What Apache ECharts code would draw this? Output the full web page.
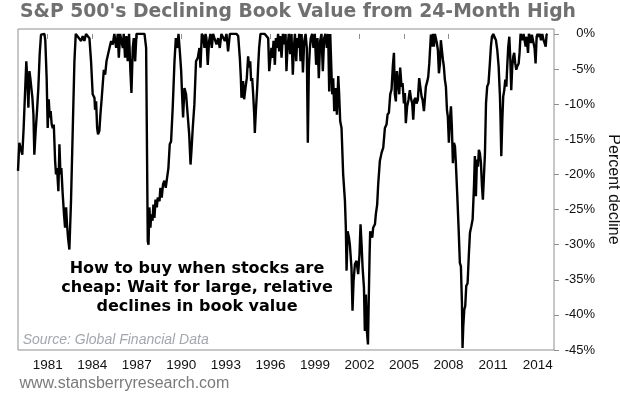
<!DOCTYPE html>
<html><head><meta charset="utf-8">
<script src="https://cdn.jsdelivr.net/npm/echarts@6/dist/echarts.min.js"></script>
<style>html,body{margin:0;padding:0;background:#fff}#c{width:620px;height:395px}</style>
</head><body><div id="c"></div>
<script>
const titleText = "S&P 500's Declining Book Value from 24-Month High";
const noteLines = ["How to buy when stocks are", "cheap: Wait for large, relative", "declines in book value"];
const sourceText = "Source: Global Financial Data";
const footerText = "www.stansberryresearch.com";
const axisName = "Percent decline";

const xTickYears = [1981, 1984, 1987, 1990, 1993, 1996, 1999, 2002, 2005, 2008, 2011, 2014];
const yTickValues = [0, -5, -10, -15, -20, -25, -30, -35, -40, -45];

const dates = [
1979.00,1979.09,1979.20,1979.29,1979.38,1979.47,1979.56,1979.63,1979.70,1979.77,1979.83,1979.90,1979.97,
1980.04,1980.10,1980.19,1980.28,1980.37,1980.46,1980.55,1980.67,1980.78,1980.84,1980.93,
1981.00,1981.07,1981.14,1981.20,1981.27,1981.34,1981.41,1981.50,1981.56,1981.63,1981.72,1981.79,1981.86,1981.92,
1982.01,1982.10,1982.17,1982.24,1982.30,1982.37,1982.46,1982.57,1982.69,1982.80,1982.89,
1983.02,1983.25,1983.36,1983.47,1983.58,1983.70,1983.81,1983.92,
1984.03,1984.15,1984.19,1984.26,1984.33,1984.39,1984.48,1984.55,1984.64,1984.78,1984.87,1984.96,
1985.05,1985.16,1985.27,1985.38,1985.49,1985.61,1985.72,1985.79,1985.88,1985.99,
1986.06,1986.12,1986.21,1986.30,1986.39,1986.48,1986.57,1986.64,1986.73,1986.80,1986.89,1986.98,
1987.18,1987.52,1987.63,1987.74,1987.79,1987.85,1987.92,1987.97,
1988.06,1988.12,1988.19,1988.26,1988.35,1988.41,1988.53,1988.59,1988.68,1988.77,1988.86,1988.95,
1989.04,1989.13,1989.22,1989.31,1989.42,1989.54,1989.63,1989.72,1989.81,1989.90,1989.99,
1990.05,1990.12,1990.21,1990.32,1990.44,1990.53,1990.62,1990.68,1990.77,1990.88,1990.99,
1991.11,1991.22,1991.29,1991.38,1991.47,1991.56,1991.63,1991.69,1991.78,1991.87,1991.96,
1992.05,1992.14,1992.23,1992.37,1992.48,1992.59,1992.70,1992.82,1992.93,
1993.04,1993.15,1993.27,1993.49,1993.72,1993.83,1993.94,
1994.01,1994.05,1994.16,1994.23,1994.32,1994.41,1994.50,1994.57,1994.64,1994.70,1994.77,1994.84,1994.91,1994.95,
1995.02,1995.11,1995.18,1995.24,1995.33,1995.44,1995.62,1995.74,1995.85,1995.92,1995.98,
1996.07,1996.14,1996.21,1996.30,1996.37,1996.43,1996.52,1996.59,1996.66,1996.75,1996.84,1996.93,
1997.02,1997.08,1997.15,1997.24,1997.33,1997.42,1997.51,1997.58,1997.65,1997.74,1997.80,1997.87,1997.94,
1998.03,1998.10,1998.19,1998.28,1998.37,1998.45,1998.52,1998.59,1998.66,1998.72,1998.81,1998.90,1998.99,
1999.08,1999.17,1999.26,1999.35,1999.44,1999.53,1999.62,1999.71,1999.80,1999.89,1999.96,
2000.03,2000.09,2000.16,2000.23,2000.30,2000.39,2000.48,2000.57,2000.63,2000.70,2000.79,2000.90,
2001.02,2001.08,2001.13,2001.20,2001.29,2001.35,2001.46,2001.53,2001.60,2001.69,2001.80,2001.91,
2002.00,2002.07,2002.14,2002.21,2002.30,2002.36,2002.43,2002.50,2002.57,2002.61,2002.68,2002.72,2002.79,2002.86,2002.92,
2003.04,2003.10,2003.19,2003.26,2003.37,2003.49,2003.60,2003.71,2003.82,2003.89,2003.98,
2004.07,2004.16,2004.25,2004.32,2004.38,2004.45,2004.52,2004.61,2004.68,2004.74,2004.83,2004.90,2004.99,
2005.06,2005.12,2005.21,2005.30,2005.39,2005.46,2005.55,2005.62,2005.69,2005.78,2005.84,2005.93,
2006.02,2006.11,2006.18,2006.25,2006.34,2006.40,2006.47,2006.56,2006.63,2006.70,2006.74,2006.81,2006.88,2006.94,
2007.01,2007.08,2007.15,2007.21,2007.28,2007.35,2007.42,2007.48,2007.55,2007.62,2007.68,2007.75,2007.82,2007.89,2007.95,
2008.02,2008.09,2008.16,2008.22,2008.29,2008.36,2008.43,2008.49,2008.58,2008.67,2008.76,2008.83,2008.90,2008.94,2008.99,
2009.06,2009.12,2009.19,2009.28,2009.37,2009.44,2009.53,2009.62,2009.71,2009.77,2009.84,2009.91,2009.98,
2010.04,2010.11,2010.18,2010.25,2010.31,2010.38,2010.45,2010.52,2010.60,2010.69,2010.78,2010.85,2010.92,
2011.01,2011.10,2011.19,2011.28,2011.37,2011.46,2011.50,2011.55,2011.62,2011.68,2011.75,2011.82,2011.89,2011.95,
2012.02,2012.09,2012.16,2012.22,2012.29,2012.36,2012.42,2012.49,2012.56,2012.63,2012.72,2012.78,2012.85,2012.92,2012.99,
2013.05,2013.12,2013.19,2013.26,2013.35,2013.41,2013.48,2013.55,2013.61,2013.70,2013.79,2013.86,2013.93,
2014.00,2014.06,2014.15,2014.22,2014.31,2014.40,2014.47,2014.54,2014.60,2014.67
];

const declinePct = [
-19.5,-15.5,-15.3,-17.2,-13.4,-8.6,-3.9,-6.7,-10.5,-5.3,-6.3,-7.7,-9.1,
-11.5,-17.2,-13.8,-11.0,-7.7,-2.9,-0.1,0,0,-1.0,-6.3,
-13.4,-9.3,-11.9,-11.0,-12.9,-13.4,-12.9,-18.1,-20.0,-19.1,-22.4,-15.7,-20.0,-19.1,
-22.8,-25.7,-27.6,-24.7,-27.1,-29.0,-30.7,-23.8,-13.4,-3.9,0,
0,-1.0,-0.3,-1.0,0,0,-0.6,-3.9,
-8.6,-9.1,-10.8,-9.6,-13.4,-14.3,-13.8,-11.5,-9.1,-5.1,-5.8,-3.9,
-3.9,-2.0,-1.0,-1.5,0,-2.0,0,-3.4,0,0,
-2.0,0,-3.4,-0.3,-3.9,0,-5.3,-8.4,-2.0,-0.6,-3.9,0,
0,0,-2.0,-29.5,-30.0,-24.7,-27.6,-25.7,
-26.6,-24.3,-26.2,-23.6,-24.7,-23.3,-23.8,-21.9,-23.3,-21.4,-20.9,-21.9,
-20.5,-19.1,-15.7,-15.3,-10.5,-3.9,-0.6,-2.0,0,-2.5,-5.3,
-8.6,-11.9,-7.7,-8.6,-8.6,-14.3,-18.6,-16.7,-13.4,-10.0,-3.9,
-3.4,-2.0,-4.8,0,-0.3,-2.0,0,-0.6,-4.4,-1.0,0,
-2.0,0,-0.6,-1.5,-0.6,-2.0,0,0,-1.0,
0,-2.5,0,0,0,-0.3,-3.4,
-6.3,-9.1,-6.7,-9.3,-7.7,-6.3,-3.2,-4.8,-3.9,-6.7,-6.3,-8.6,-11.5,-14.1,
-11.0,-7.7,-4.4,-2.0,0,0,0,0,-0.6,-5.3,-3.9,
-2.0,-3.4,-1.0,-4.4,-0.6,-2.0,0,-2.5,-0.3,-3.4,0,-1.5,
0,-5.3,-2.0,0,-2.9,0,-5.8,-2.0,0,-3.9,-0.6,-2.0,0,
-3.9,0,-5.5,-1.0,0,-2.0,-15.5,-4.8,-2.0,-0.6,0,-2.0,0,
-4.4,-0.6,-6.3,-1.0,0,-5.3,-0.6,0,-2.0,0,-8.2,
0,0,-8.6,-6.3,-11.0,-7.7,-11.5,-6.0,-8.6,-12.4,-13.4,-20.0,
-23.8,-27.6,-33.7,-28.1,-29.0,-30.0,-33.3,-39.4,-35.2,-32.8,-32.3,-34.2,
-31.4,-27.1,-30.0,-33.3,-36.1,-42.3,-37.1,-42.3,-44.2,-39.4,-31.4,-28.1,-28.5,-29.0,-27.6,
-27.1,-25.7,-24.3,-21.4,-18.1,-16.9,-16.2,-13.4,-12.9,-11.5,-11.2,
-8.6,-7.9,-4.4,-2.7,-8.6,-9.6,-5.3,-7.2,-8.6,-4.8,-7.5,-7.0,-9.9,
-8.4,-12.7,-10.3,-9.4,-8.0,-9.1,-9.9,-12.2,-9.4,-9.1,-9.9,-9.4,
-6.3,-6.5,-8.9,-9.4,-11.0,-9.4,-7.5,-6.8,-6.1,-4.2,-2.7,-0.1,-1.8,0,
-1.8,0,0,-1.3,-2.3,-5.6,-4.2,-0.9,-2.3,-3.7,-4.6,-6.5,-7.5,-10.8,-11.8,
-15.5,-12.2,-10.3,-13.2,-18.4,-15.5,-16.0,-18.4,-22.7,-27.4,-32.6,-33.1,-38.3,-44.7,-41.6,
-39.2,-38.8,-35.9,-35.5,-31.2,-28.3,-27.4,-26.4,-21.7,-17.4,-23.1,-17.9,-18.9,
-16.5,-17.0,-18.4,-21.7,-23.6,-20.3,-17.0,-9.9,-7.5,-7.0,-4.2,-1.8,-0.4,
0,-0.1,-0.9,-2.3,-4.6,-8.9,-12.2,-17.4,-12.2,-8.9,-8.0,-6.5,-7.5,-4.6,
-1.8,-0.4,-3.7,-8.0,-4.6,-3.2,-2.7,-4.2,-5.1,-4.6,-4.2,-2.7,0,0,-0.9,
0,0,-1.8,-0.4,-2.7,0,-0.4,-1.3,-0.1,0,-2.0,-4.2,-0.4,
0,-0.4,0,-0.9,0,-0.9,-1.3,-1.8,-0.1,0
];

const seriesData = dates.map((d, i) => [d, declinePct[i]]);

const chart = echarts.init(document.getElementById('c'), null, {renderer: 'canvas'});
chart.setOption({
  animation: false,
  backgroundColor: '#ffffff',
  grid: {left: 18, right: 66, top: 29, bottom: 45, show: true, borderColor: '#8f8f8f', borderWidth: 1,
         backgroundColor: 'transparent', containLabel: false, outerBoundsMode: 'none'},
  xAxis: {
    type: 'value', min: 1979, max: 2015.1,
    axisLine: {show: false}, splitLine: {show: false},
    axisTick: {show: true, customValues: xTickYears, length: 5, lineStyle: {color: '#8f8f8f'}},
    axisLabel: {customValues: xTickYears, formatter: v => String(Math.round(v)), fontSize: 13.5, color: '#111', margin: 8, fontFamily: 'Liberation Sans'}
  },
  yAxis: {
    type: 'value', position: 'right', min: -45, max: 0.7,
    axisLine: {show: false}, splitLine: {show: false},
    axisTick: {show: true, customValues: yTickValues, length: 5, lineStyle: {color: '#8f8f8f'}},
    axisLabel: {customValues: yTickValues, formatter: v => Math.round(v) + '%', align: 'right', margin: 41, fontSize: 13, color: '#111', fontFamily: 'Liberation Sans'},
    name: axisName, nameLocation: 'middle', nameRotate: -90, nameGap: 50,
    nameTextStyle: {fontSize: 16, color: '#111', fontFamily: 'Liberation Sans'}
  },
  series: [{
    type: 'line', data: seriesData, showSymbol: false, symbol: 'none',
    lineStyle: {color: '#000', width: 2.4}, clip: true
  }],
  graphic: [
    {type: 'text', x: 20, y: 12, style: {text: titleText, font: 'bold 18.8px "DejaVu Sans"', fill: '#707070', verticalAlign: 'middle'}},
    {type: 'text', x: 197, y: 269.3, style: {text: noteLines[0], font: 'bold 16px "DejaVu Sans"', fill: '#000', align: 'center', verticalAlign: 'middle'}},
    {type: 'text', x: 197, y: 287.8, style: {text: noteLines[1], font: 'bold 16px "DejaVu Sans"', fill: '#000', align: 'center', verticalAlign: 'middle'}},
    {type: 'text', x: 197, y: 306.5, style: {text: noteLines[2], font: 'bold 16px "DejaVu Sans"', fill: '#000', align: 'center', verticalAlign: 'middle'}},
    {type: 'text', x: 22.7, y: 340, style: {text: sourceText, font: 'italic 14px "Liberation Sans"', fill: '#a3a7ad', verticalAlign: 'middle'}},
    {type: 'text', x: 19.5, y: 384, style: {text: footerText, font: '16px "Liberation Sans"', fill: '#7a7a7a', verticalAlign: 'middle'}}
  ]
});
</script>
</body></html>
